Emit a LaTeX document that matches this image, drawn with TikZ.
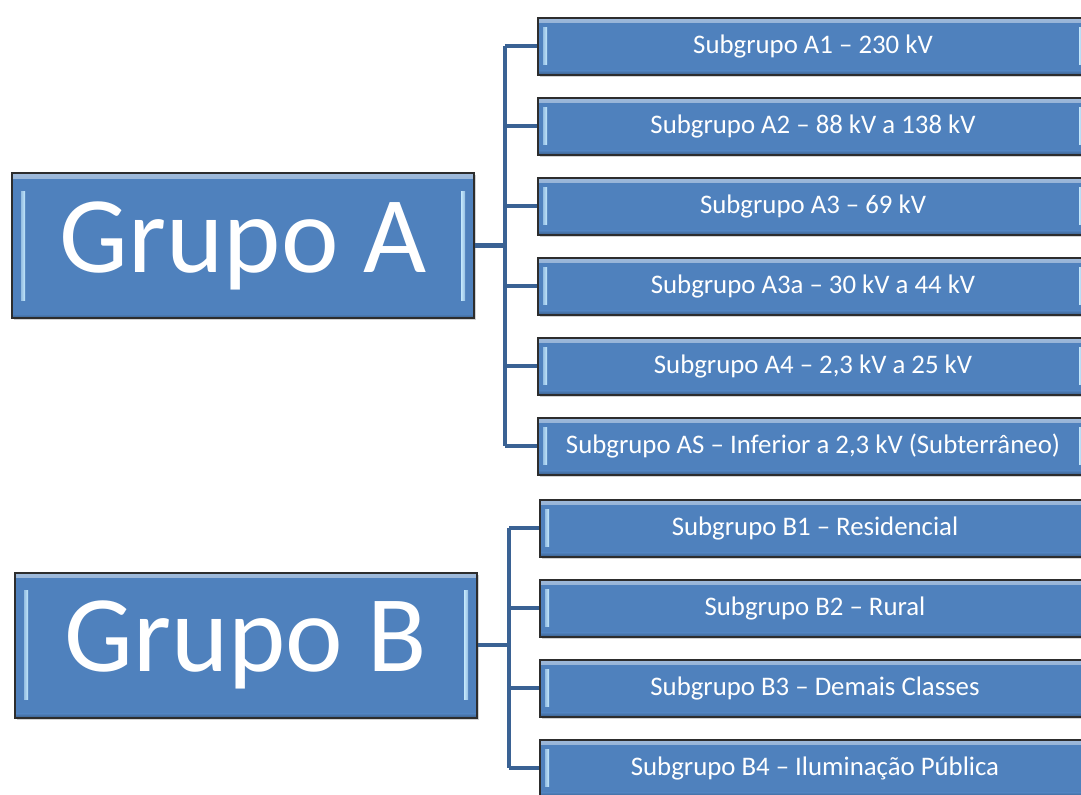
\documentclass[tikz,border=0pt]{standalone}
\usepackage{fontspec}
\setmainfont{Carlito}
\usetikzlibrary{shadows}
\definecolor{boxBlue}{RGB}{79,129,189}
\definecolor{boxEdge}{RGB}{45,45,45}
\definecolor{bevelLight}{RGB}{196,232,252}
\definecolor{linkBlue}{RGB}{58,98,148}
\begin{document}
\begin{tikzpicture}[x=0.5pt,y=-0.5pt,
    bevel/.style={path picture={
      \shade[top color=boxBlue!55!white, bottom color=boxBlue]
        (path picture bounding box.north west) rectangle ([yshift=-2.5pt]path picture bounding box.north east);
      \shade[top color=boxBlue, bottom color=boxBlue!75!black]
        ([yshift=2pt]path picture bounding box.south west) rectangle (path picture bounding box.south east);
      \shade[left color=boxBlue!40!bevelLight, right color=bevelLight]
        ([xshift=#1,yshift=-2*#1]path picture bounding box.north west)
        rectangle ([xshift=#1+2pt,yshift=2*#1]path picture bounding box.south west);
      \shade[left color=bevelLight, right color=boxBlue!40!bevelLight]
        ([xshift=-#1,yshift=-2*#1]path picture bounding box.north east)
        rectangle ([xshift=-#1-2pt,yshift=2*#1]path picture bounding box.south east);
    }},
    boxbase/.style={draw=boxEdge, line width=1pt, fill=boxBlue, text=white,
      inner sep=0pt, drop shadow={shadow xshift=0.8pt, shadow yshift=-1.2pt, opacity=0.35}},
    grupo/.style={boxbase, bevel=4.5pt, minimum width=231pt, minimum height=72.5pt,
      font=\fontsize{54.5}{56}\selectfont},
    subgrupo/.style={boxbase, bevel=2.5pt, minimum width=275pt, minimum height=28.5pt,
      font=\fontsize{13.4}{14}\selectfont},
    conn/.style={draw=linkBlue, line width=2.2pt}
  ]
    \clip (0,0) rectangle (1081,794);

    % main groups
    \node[grupo] (grpA) at (243,245.5) {Grupo A};
    \node[grupo] (grpB) at (246,645) {Grupo B};

    % subgroups of A
    \node[subgrupo] (subA1) at (813,46) {Subgrupo A1 – 230 kV};
    \node[subgrupo] (subA2) at (813,126) {Subgrupo A2 – 88 kV a 138 kV};
    \node[subgrupo] (subA3) at (813,206) {Subgrupo A3 – 69 kV};
    \node[subgrupo] (subA3a) at (813,286) {Subgrupo A3a – 30 kV a 44 kV};
    \node[subgrupo] (subA4) at (813,366) {Subgrupo A4 – 2,3 kV a 25 kV};
    \node[subgrupo] (subAS) at (813,446) {Subgrupo AS – Inferior a 2,3 kV (Subterrâneo)};

    % subgroups of B
    \node[subgrupo] (subB1) at (815,528) {Subgrupo B1 – Residencial};
    \node[subgrupo] (subB2) at (815,608) {Subgrupo B2 – Rural};
    \node[subgrupo] (subB3) at (815,688) {Subgrupo B3 – Demais Classes};
    \node[subgrupo] (subB4) at (815,768) {Subgrupo B4 – Iluminação Pública};

    % tree connectors
    \coordinate (spineA) at (505,245.5);
    \coordinate (spineB) at (509,645);
    \draw[conn] (grpA.east) -- (spineA);
    \draw[conn] (spineA |- subA1.west) -- (spineA |- subAS.west);
    \foreach \n in {A1,A2,A3,A3a,A4,AS}
      \draw[conn] (spineA |- sub\n.west) -- (sub\n.west);
    \draw[conn] (grpB.east) -- (spineB);
    \draw[conn] (spineB |- subB1.west) -- (spineB |- subB4.west);
    \foreach \n in {B1,B2,B3,B4}
      \draw[conn] (spineB |- sub\n.west) -- (sub\n.west);
  \end{tikzpicture}
\end{document}
